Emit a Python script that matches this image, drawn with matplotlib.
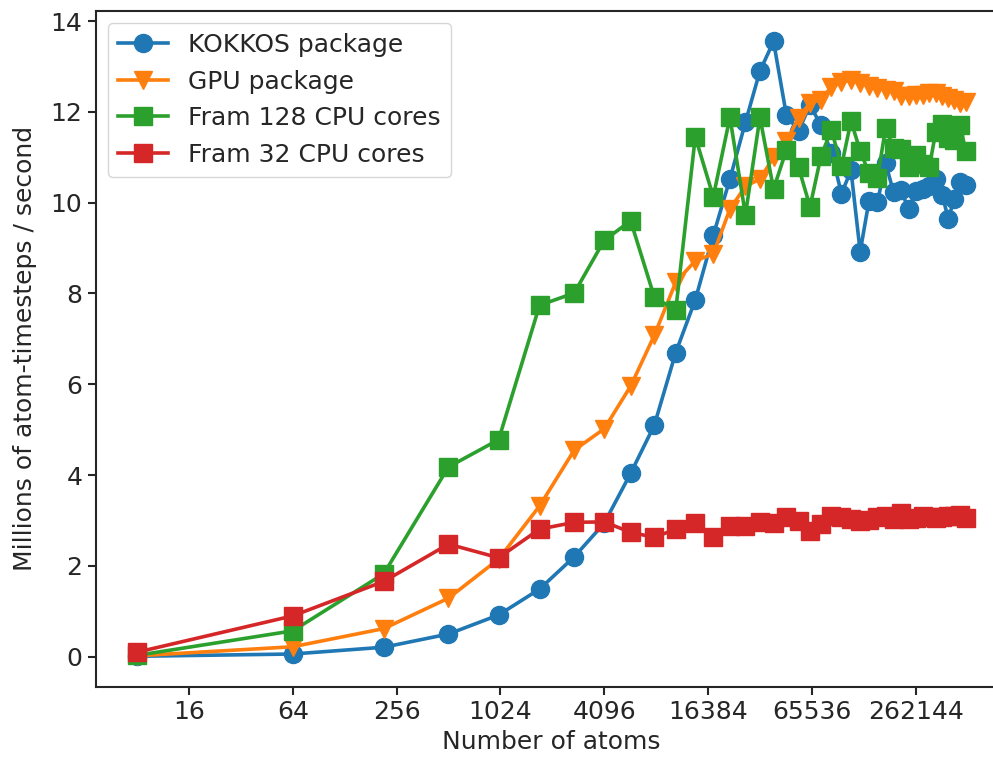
import matplotlib
matplotlib.use("Agg")
import matplotlib.pyplot as plt
from matplotlib.ticker import NullLocator

# atoms in the box (cubic lattice, 2..80 cells per side)
atoms = [8, 64, 216, 512, 1000, 1728, 2744, 4096, 5832, 8000,
         10648, 13824, 17576, 21952, 27000, 32768, 39304, 46656, 54872, 64000,
         74088, 85184, 97336, 110592, 125000, 140608, 157464, 175616, 195112, 216000,
         238328, 262144, 287496, 314432, 343000, 373248, 405224, 438976, 474552, 512000]

# millions of atom-timesteps / second
kokkos = [0.01, 0.06, 0.21, 0.50, 0.92, 1.49, 2.20, 2.94, 4.04, 5.10,
          6.70, 7.86, 9.28, 10.52, 11.77, 12.90, 13.55, 11.93, 11.58, 12.15,
          11.70, 11.10, 10.20, 10.71, 8.92, 10.04, 10.01, 10.87, 10.23, 10.27,
          9.86, 10.26, 10.30, 10.37, 10.52, 10.18, 9.65, 10.07, 10.45, 10.38]
gpu = [0.02, 0.22, 0.62, 1.29, 2.15, 3.32, 4.55, 5.02, 5.96, 7.08,
       8.25, 8.72, 8.87, 9.86, 10.36, 10.52, 11.00, 11.35, 11.87, 12.20,
       12.27, 12.55, 12.65, 12.70, 12.64, 12.57, 12.52, 12.48, 12.45, 12.35,
       12.34, 12.37, 12.38, 12.41, 12.41, 12.35, 12.30, 12.26, 12.20, 12.22]
fram128 = [0.03, 0.57, 1.83, 4.18, 4.78, 7.74, 8.01, 9.17, 9.60, 7.92,
           7.63, 11.45, 10.13, 11.88, 9.73, 11.88, 10.30, 11.16, 10.78, 9.91,
           11.03, 11.60, 10.80, 11.80, 11.14, 10.65, 10.54, 11.65, 11.20, 11.18,
           10.78, 11.05, 10.85, 10.78, 11.56, 11.73, 11.42, 11.38, 11.70, 11.14]
fram32 = [0.10, 0.90, 1.66, 2.48, 2.18, 2.81, 2.96, 2.97, 2.74, 2.63,
          2.81, 2.95, 2.64, 2.89, 2.88, 2.97, 2.94, 3.07, 3.00, 2.78,
          2.93, 3.11, 3.08, 3.04, 2.99, 3.01, 3.08, 3.10, 3.04, 3.17,
          3.03, 3.05, 3.10, 3.07, 3.05, 3.07, 3.10, 3.10, 3.12, 3.06]

xticks = [16, 64, 256, 1024, 4096, 16384, 65536, 262144]
yticks = [0, 2, 4, 6, 8, 10, 12, 14]

plt.rcParams.update({
    "font.family": "DejaVu Sans",
    "font.size": 18,
    "text.color": ".15",
    "axes.labelcolor": ".15",
    "axes.edgecolor": ".15",
    "xtick.color": ".15",
    "ytick.color": ".15",
    "axes.linewidth": 1.5,
})

fig = plt.figure(figsize=(9.93, 7.62), dpi=100)
# right spine falls just outside the saved canvas, as in the reference
ax = fig.add_axes([0.0963, 0.0984, 0.918, 0.8875])

style = dict(lw=2.6, ms=13)
ax.plot(atoms, kokkos, "o-", color="#1f77b4", label="KOKKOS package", **style)
ax.plot(atoms, gpu, "v-", color="#ff7f0e", label="GPU package", **style)
ax.plot(atoms, fram128, "s-", color="#2ca02c", label="Fram 128 CPU cores", **style)
ax.plot(atoms, fram32, "s-", color="#d62728", label="Fram 32 CPU cores", **style)

ax.set_xscale("log", base=2)
ax.set_xticks(xticks)
ax.set_xticklabels([str(t) for t in xticks])
ax.xaxis.set_minor_locator(NullLocator())
ax.set_yticks(yticks)
ax.tick_params(direction="out", length=6, width=1.5, labelsize=18)

ax.set_xlabel("Number of atoms", fontsize=18)
ax.set_ylabel("Millions of atom-timesteps / second", fontsize=18, labelpad=10)
ax.legend(loc="upper left", fontsize=18, framealpha=0.8, edgecolor="0.8")

fig.savefig("out.png", dpi=100)
